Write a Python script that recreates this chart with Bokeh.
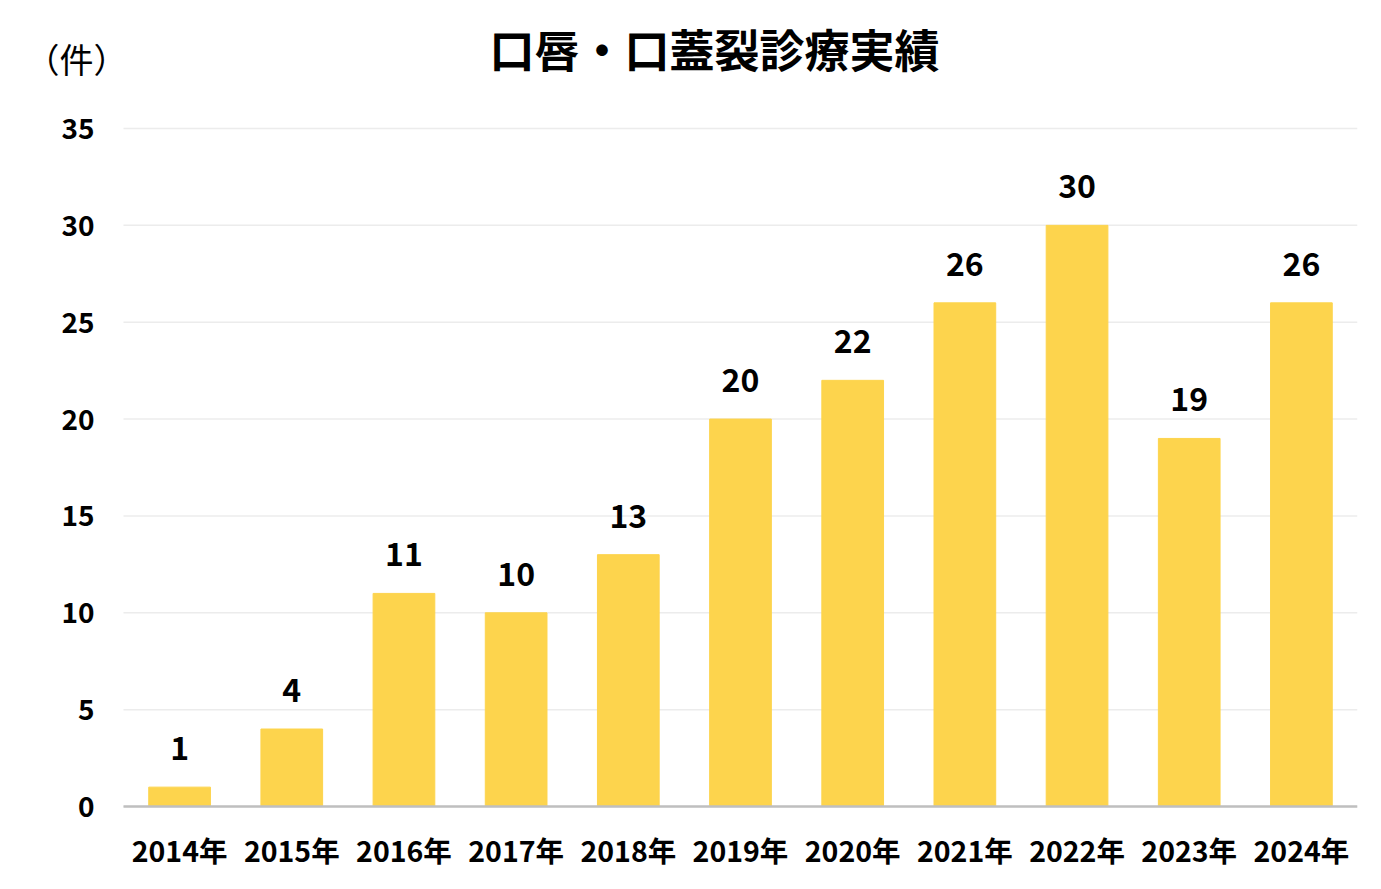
from bokeh.plotting import figure
from bokeh.models import ColumnDataSource, Label, LabelSet, Range1d, FixedTicker
from bokeh.core.properties import value
from bokeh.embed import file_html
from bokeh.resources import INLINE

years = ["2014年", "2015年", "2016年", "2017年", "2018年", "2019年",
         "2020年", "2021年", "2022年", "2023年", "2024年"]
counts = [1, 4, 11, 10, 13, 20, 22, 26, 30, 19, 26]
y_ticks = [0, 5, 10, 15, 20, 25, 30, 35]
title_text = "口唇・口蓋裂診療実績"
unit_text = "（件）"

FONT = "Noto Sans CJK JP"

n = len(years)
xs = list(range(n))
src = ColumnDataSource(dict(x=xs, count=counts, label=[str(c) for c in counts]))
tick_src = ColumnDataSource(dict(y=y_ticks, label=[str(t) for t in y_ticks],
                                 x0=[-0.5] * len(y_ticks), x1=[n - 0.5] * len(y_ticks)))

W, H = 1375, 883
FRAME_L, FRAME_R, FRAME_T, ZERO_Y, FRAME_B = 123, 1357, 128, 806, 821
cat_px = (FRAME_R - FRAME_L) / n
unit_px = (ZERO_Y - FRAME_T) / y_ticks[-1]

p = figure(width=W, height=H, output_backend="svg", toolbar_location=None,
           min_border_left=0, min_border_right=W - FRAME_R,
           min_border_top=0, min_border_bottom=H - FRAME_B)
p.x_range = Range1d(-0.5 - FRAME_L / cat_px, n - 0.5)
p.y_range = Range1d(-(FRAME_B - ZERO_Y) / unit_px, y_ticks[-1] + FRAME_T / unit_px)

# gridlines
p.segment(x0="x0", x1="x1", y0="y", y1="y", source=tick_src,
          line_color="#ECECEC", line_width=1.5)

p.vbar(x="x", top="count", width=0.55, source=src, color="#FDD44D")

# baseline (category axis line)
p.segment(x0=[-0.5], x1=[n - 0.5], y0=[0], y1=[0], line_color="#BFBFBF", line_width=2.5)

labels = LabelSet(x="x", y="count", text="label", source=src, text_align="center",
                  text_baseline="bottom", y_offset=27, text_font=value(FONT),
                  text_font_size="32px", text_font_style="bold", text_color="#000000")
p.add_layout(labels)

ylabels = LabelSet(x=FRAME_L - 29, x_units="screen", y="y", text="label", source=tick_src,
                   text_align="right", text_baseline="middle", text_font=value(FONT),
                   text_font_size="28px", text_font_style="bold", text_color="#000000")
p.add_layout(ylabels)

p.outline_line_color = None
p.xgrid.grid_line_color = None
p.ygrid.grid_line_color = None
p.yaxis.visible = False

p.xaxis.ticker = FixedTicker(ticks=xs)
p.xaxis.major_label_overrides = {i: y for i, y in zip(xs, years)}
p.xaxis.axis_line_color = None
p.xaxis.major_tick_line_color = None
p.xaxis.minor_tick_line_color = None
p.xaxis.major_label_standoff = 1
p.xaxis.major_label_text_font = FONT
p.xaxis.major_label_text_font_size = "28.5px"
p.xaxis.major_label_text_font_style = "bold"
p.xaxis.major_label_text_color = "#000000"

title = Label(x=714, y=FRAME_B - 48, x_units="screen", y_units="screen", text=title_text,
              text_align="center", text_baseline="middle", text_font=FONT,
              text_font_size="45px", text_font_style="bold", text_color="#000000")
p.add_layout(title)

unit = Label(x=76, y=FRAME_B - 58, x_units="screen", y_units="screen", text=unit_text,
             text_align="center", text_baseline="middle", text_font=FONT,
             text_font_size="34px", text_font_style="normal", text_color="#000000")
p.add_layout(unit)

open("out.html", "w").write(file_html(p, INLINE))
